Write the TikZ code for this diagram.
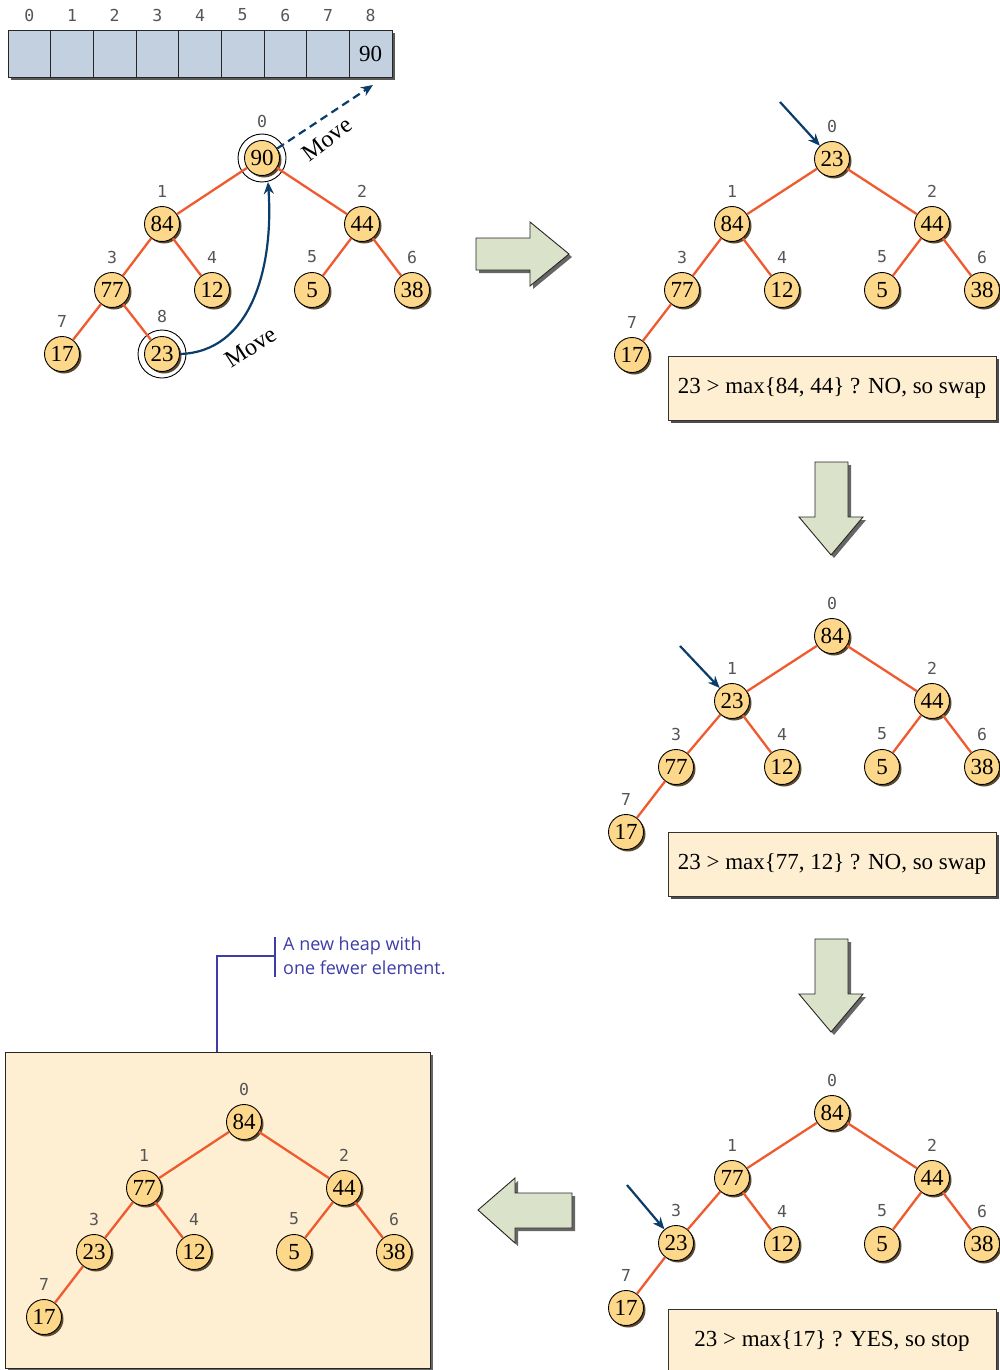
\documentclass[tikz,border=0pt]{standalone}
\usepackage{fontspec}
\setmainfont{Liberation Serif}
\newfontfamily\idxfont{DejaVu Sans Mono}
\newfontfamily\notefont{Open Sans}
\usetikzlibrary{shadows,arrows.meta}
\definecolor{nodefill}{HTML}{FDD78A}
\definecolor{nodeshadow}{HTML}{5A4A30}
\definecolor{edgecol}{HTML}{EF5A2E}
\definecolor{navy}{HTML}{0B3D6B}
\definecolor{boxfill}{HTML}{FEEFD3}
\definecolor{cellfill}{HTML}{C3D0E0}
\definecolor{barrowfill}{HTML}{DAE3C9}
\definecolor{notecol}{HTML}{3D3DA8}
\definecolor{idxcol}{HTML}{555555}
\tikzset{
  hnode/.style={circle,draw=black,line width=0.9pt,fill=nodefill,minimum size=35pt,inner sep=0pt,
    font=\fontsize{23}{23}\selectfont,
    drop shadow={shadow xshift=2pt,shadow yshift=-2pt,fill=nodeshadow,opacity=1}},
  ring/.style={circle,draw=black,line width=0.9pt,minimum size=48pt,inner sep=0pt},
  idx/.style={font=\idxfont\fontsize{16.5}{16.5}\selectfont,text=idxcol,inner sep=0pt},
  edge/.style={draw=edgecol,line width=2.3pt},
  ptr/.style={draw=navy,line width=2.2pt,-{Stealth[length=12pt,width=10pt]}},
  tbox/.style={rectangle,draw=black!80,line width=0.9pt,fill=boxfill,minimum width=328pt,minimum height=64pt,
    font=\fontsize{23}{23}\selectfont,
    drop shadow={shadow xshift=3pt,shadow yshift=-3pt,fill=black!70,opacity=1}},
  barrow/.style={draw=black!85,line width=0.9pt,fill=barrowfill,
    drop shadow={shadow xshift=3pt,shadow yshift=-3pt,fill=black!60,opacity=1}},
  cell/.style={rectangle,draw=black!85,line width=0.9pt,fill=cellfill,minimum width=42.67pt,minimum height=47pt,inner sep=0pt,
    font=\fontsize{23}{23}\selectfont},
  movelbl/.style={font=\fontsize{24}{24}\selectfont,inner sep=0pt},
  callout/.style={draw=notecol,line width=1.6pt},
}
\newcommand\hn[5]{\node[hnode] (#1) at (#2,#3) {#4}; \node[idx] at (#2,#3-33) {#5};}
\begin{document}
\begin{tikzpicture}[x=1pt,y=-1pt]
\useasboundingbox (0,0) rectangle (1000,1370);

% ---------- array ----------
\fill[black!65] (11,33) rectangle (395,80);
\foreach \i in {0,...,8} {
  \node[cell] (c\i) at (8+21.33+\i*42.67,53.5) {};
  \node[idx] at (8+21.33+\i*42.67,15) {\i};
}
\node[font=\fontsize{23}{23}\selectfont] at (c8) {90};

% ---------- tree 1 ----------
\node[ring] (r0) at (262,158) {};
\node[ring] (r8) at (162,354) {};
\node[hnode] (a0) at (262,158) {90}; \node[idx] at (262,121) {0};
\hn{a1}{162}{224}{84}{1}
\hn{a2}{362}{224}{44}{2}
\hn{a3}{112}{290}{77}{3}
\hn{a4}{212}{290}{12}{4}
\hn{a5}{312}{290}{5}{5}
\hn{a6}{412}{290}{38}{6}
\hn{a7}{62}{354}{17}{7}
\node[hnode] (a8) at (162,354) {23}; \node[idx] at (162,316) {8};
\draw[edge] (a0)--(a1) (a0)--(a2) (a1)--(a3) (a1)--(a4) (a2)--(a5) (a2)--(a6) (a3)--(a7) (a3)--(a8);
\coordinate (mvend) at (373,85);
\draw[ptr,dashed,dash pattern=on 8pt off 5pt] (a0.32) -- (mvend);
\node[movelbl,rotate=37] at (327,139) {Move};
\coordinate (mvtop) at (268,182);
\draw[ptr] (a8.east) .. controls (250,352) and (274,270) .. (mvtop);
\node[movelbl,rotate=33] at (251,347) {Move};

% ---------- block arrows ----------
\draw[barrow] (476,238) -- (530,238) -- (530,222) -- (569,254) -- (530,286) -- (530,270) -- (476,270) -- cycle;
\draw[barrow] (815,462) -- (848,462) -- (848,517) -- (863,517) -- (831,555) -- (799,517) -- (815,517) -- cycle;
\draw[barrow] (815,939) -- (848,939) -- (848,994) -- (863,994) -- (831,1032) -- (799,994) -- (815,994) -- cycle;
\draw[barrow] (572,1193) -- (515,1193) -- (515,1178) -- (478,1210) -- (515,1243) -- (515,1228) -- (572,1228) -- cycle;

% ---------- tree 2 ----------
\hn{b0}{832}{159}{23}{0}
\hn{b1}{732}{224}{84}{1}
\hn{b2}{932}{224}{44}{2}
\hn{b3}{682}{290}{77}{3}
\hn{b4}{782}{290}{12}{4}
\hn{b5}{882}{290}{5}{5}
\hn{b6}{982}{290}{38}{6}
\hn{b7}{632}{355}{17}{7}
\draw[edge] (b0)--(b1) (b0)--(b2) (b1)--(b3) (b1)--(b4) (b2)--(b5) (b2)--(b6) (b3)--(b7);
\coordinate (pb) at (780,102);
\draw[ptr] (pb) -- (b0);
\node[tbox] (tb1) at (832,388) {23 > max\{84, 44\} ? NO, so swap};

% ---------- tree 3 ----------
\hn{c0}{832}{636}{84}{0}
\hn{c1}{732}{701}{23}{1}
\hn{c2}{932}{701}{44}{2}
\hn{c3}{676}{767}{77}{3}
\hn{c4}{782}{767}{12}{4}
\hn{c5}{882}{767}{5}{5}
\hn{c6}{982}{767}{38}{6}
\hn{c7}{626}{832}{17}{7}
\draw[edge] (c0)--(c1) (c0)--(c2) (c1)--(c3) (c1)--(c4) (c2)--(c5) (c2)--(c6) (c3)--(c7);
\coordinate (pc) at (680,646);
\draw[ptr] (pc) -- (c1);
\node[tbox] (tb2) at (832,864) {23 > max\{77, 12\} ? NO, so swap};

% ---------- tree 4 ----------
\hn{d0}{832}{1113}{84}{0}
\hn{d1}{732}{1178}{77}{1}
\hn{d2}{932}{1178}{44}{2}
\hn{d3}{676}{1243}{23}{3}
\hn{d4}{782}{1244}{12}{4}
\hn{d5}{882}{1244}{5}{5}
\hn{d6}{982}{1244}{38}{6}
\hn{d7}{626}{1308}{17}{7}
\draw[edge] (d0)--(d1) (d0)--(d2) (d1)--(d3) (d1)--(d4) (d2)--(d5) (d2)--(d6) (d3)--(d7);
\coordinate (pd) at (627,1185);
\draw[ptr] (pd) -- (d3);
\node[tbox] (tb3) at (832,1341) {23 > max\{17\} ? YES, so stop};

% ---------- result ----------
\node[rectangle,draw=black!85,line width=0.9pt,fill=boxfill,minimum width=425pt,minimum height=316pt,inner sep=0pt,
  drop shadow={shadow xshift=3pt,shadow yshift=-3pt,fill=black!60,opacity=1}] (bigbox) at (217.5,1210) {};
\hn{e0}{244}{1122}{84}{0}
\hn{e1}{144}{1188}{77}{1}
\hn{e2}{344}{1188}{44}{2}
\hn{e3}{94}{1252}{23}{3}
\hn{e4}{194}{1252}{12}{4}
\hn{e5}{294}{1252}{5}{5}
\hn{e6}{394}{1252}{38}{6}
\hn{e7}{44}{1317}{17}{7}
\draw[edge] (e0)--(e1) (e0)--(e2) (e1)--(e3) (e1)--(e4) (e2)--(e5) (e2)--(e6) (e3)--(e7);

% ---------- callout ----------
\coordinate (co1) at (217,956);
\coordinate (bartop) at (275,937);
\coordinate (barbot) at (275,977);
\draw[callout] (bartop) -- (barbot);
\draw[callout] (bigbox.north -| co1) -- (co1) -- (co1 -| bartop);
\node[anchor=west,align=left,text=notecol,font=\notefont\fontsize{18}{24}\selectfont,inner sep=0pt] (note) at (283,956)
  {A new heap with\\one fewer element.};
\end{tikzpicture}
\end{document}
